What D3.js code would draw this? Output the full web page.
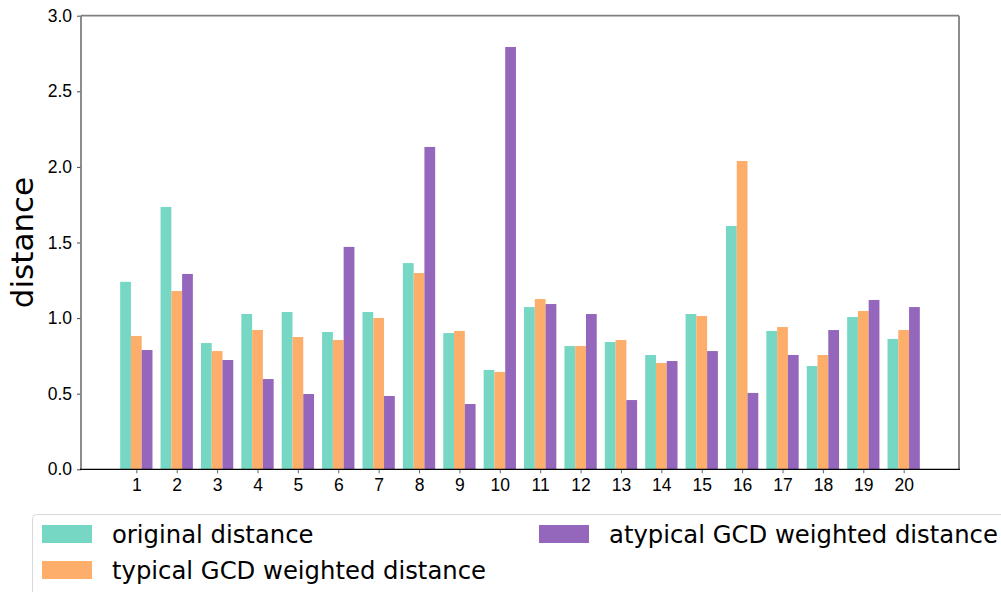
<!DOCTYPE html>
<html>
<head>
<meta charset="utf-8">
<script src="https://cdn.jsdelivr.net/npm/d3@7"></script>
<style>
  body { margin: 0; background: #fff; }
  svg { display: block; font-family: "DejaVu Sans", sans-serif; }
</style>
</head>
<body>
<svg id="chart" width="1001" height="592"></svg>
<script>
// categories and series
var categories = [1,2,3,4,5,6,7,8,9,10,11,12,13,14,15,16,17,18,19,20];
var original = [1.24,1.735,0.835,1.027,1.04,0.908,1.04,1.364,0.901,0.657,1.073,0.815,0.842,0.756,1.027,1.609,0.915,0.683,1.007,0.862];
var typical  = [0.882,1.179,0.782,0.921,0.875,0.855,1.001,1.298,0.915,0.644,1.126,0.815,0.855,0.703,1.014,2.039,0.941,0.756,1.047,0.921];
var atypical = [0.789,1.292,0.723,0.597,0.498,1.471,0.485,2.132,0.432,2.793,1.093,1.027,0.458,0.716,0.782,0.505,0.756,0.921,1.120,1.073];
var seriesNames = ["original distance", "typical GCD weighted distance", "atypical GCD weighted distance"];
var yTicks = [0, 0.5, 1.0, 1.5, 2.0, 2.5, 3.0];

var colours = ["#76d7c4", "#fdae6b", "#9467bd"];
var series = [original, typical, atypical];

var svg = d3.select("#chart");
var plotLeft = 81, plotRight = 959, plotTop = 15.7, plotBottom = 469.3;
var barW = 0.8/3;

//Scales
var x = d3.scaleLinear()
    .domain([1-1.37, 20+1.37])
    .range([plotLeft, plotRight]);
var y = d3.scaleLinear()
    .domain([0, 3])
    .range([plotBottom, plotTop]);

//Bars
series.forEach(function(vals, s) {
  svg.append("g").selectAll("rect")
    .data(vals)
    .enter()
    .append("rect")
    .attr("x", function(d, i) { return x(categories[i] + (s-1.5)*barW); })
    .attr("width", x(barW) - x(0))
    .attr("y", function(d) { return y(d); })
    .attr("height", function(d) { return plotBottom - y(d); })
    .attr("fill", colours[s]);
});

//Axes
var yAxis = svg.append("g")
    .attr("transform", "translate(" + plotLeft + ",0)")
    .call(d3.axisLeft(y).tickValues(yTicks).tickFormat(d3.format(".1f")).tickSize(4).tickPadding(5));
yAxis.select(".domain").remove();
yAxis.selectAll("line").attr("stroke", "#444");
yAxis.selectAll("text").style("font-size", "17.5px").attr("fill", "#000");

var xAxis = svg.append("g")
    .attr("transform", "translate(0," + plotBottom + ")")
    .call(d3.axisBottom(x).tickValues(categories).tickFormat(d3.format("d")).tickSize(4).tickPadding(5));
xAxis.select(".domain").remove();
xAxis.selectAll("line").attr("stroke", "#666");
xAxis.selectAll("text").style("font-size", "17.5px").attr("fill", "#000");

//Spines
svg.append("line").attr("x1", plotLeft).attr("x2", plotLeft).attr("y1", plotTop).attr("y2", plotBottom)
    .attr("stroke", "#808080").attr("stroke-width", 1.8);
svg.append("line").attr("x1", plotRight).attr("x2", plotRight).attr("y1", plotTop).attr("y2", plotBottom)
    .attr("stroke", "#808080").attr("stroke-width", 1.8);
svg.append("line").attr("x1", plotLeft).attr("x2", plotRight).attr("y1", plotTop).attr("y2", plotTop)
    .attr("stroke", "#808080").attr("stroke-width", 1.8);
svg.append("line").attr("x1", plotLeft - 1).attr("x2", plotRight + 1).attr("y1", plotBottom).attr("y2", plotBottom)
    .attr("stroke", "#000").attr("stroke-width", 1.2);

//Y label
svg.append("text")
    .attr("transform", "translate(33," + ((plotTop+plotBottom)/2) + ") rotate(-90)")
    .attr("text-anchor", "middle")
    .style("font-size", "31px")
    .text("distance");

//Legend
var legend = svg.append("g");
legend.append("rect")
    .attr("x", 32.5).attr("y", 514.5)
    .attr("width", 1000).attr("height", 100)
    .attr("rx", 4)
    .attr("fill", "#fff")
    .attr("stroke", "#d9d9d9");
var legendPos = [[42, 534], [42, 570], [539, 534]];
seriesNames.forEach(function(name, i) {
  var p = legendPos[i];
  legend.append("rect")
    .attr("x", p[0]).attr("y", p[1] - 9)
    .attr("width", 50).attr("height", 18)
    .attr("fill", colours[i]);
  legend.append("text")
    .attr("x", p[0] + 70).attr("y", p[1])
    .attr("dy", "0.35em")
    .style("font-size", "24.3px")
    .text(name);
});
</script>
</body>
</html>
